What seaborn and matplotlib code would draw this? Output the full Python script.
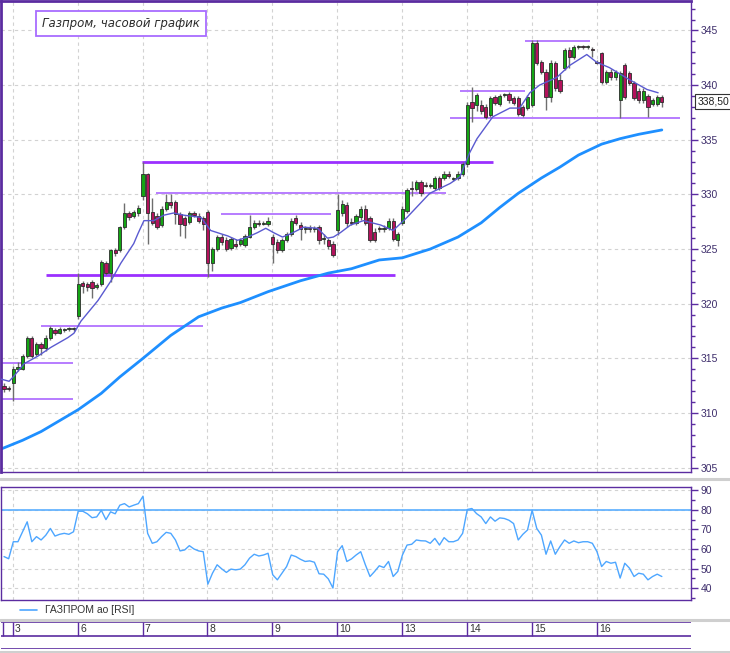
import numpy as np
import matplotlib
matplotlib.use('Agg')
import matplotlib.pyplot as plt
import matplotlib.transforms as mtransforms
from matplotlib.lines import Line2D
from matplotlib.ticker import MultipleLocator
import seaborn as sns

# ---------------- data ----------------
day_labels = ['3', '6', '7', '8', '9', '10', '13', '14', '15', '16']
day_sizes = [14, 14, 14, 14, 14, 14, 14, 14, 14, 15]
pre_count = 2   # two hourly candles of the previous session at the left edge

opens = [
    312.5, 312.3,
    312.7, 314.0, 314.0, 315.2, 316.9, 315.4, 316.3, 315.9, 316.9, 317.6, 317.3, 317.6, 317.7, 317.7,
    318.9, 321.9, 321.8, 322.0, 321.5, 321.8, 323.7, 322.8, 324.9, 324.9, 327.0, 328.3, 328.0, 328.3,
    329.9, 331.9, 328.4, 328.0, 327.2, 328.7, 329.3, 329.3, 328.2, 327.8, 327.5, 328.3, 328.0, 327.8,
    328.4, 323.7, 325.0, 326.1, 325.8, 325.1, 325.5, 325.5, 325.4, 326.1, 327.0, 327.4, 327.3, 327.3,
    326.1, 325.6, 324.9, 325.8, 326.4, 327.8, 327.2, 326.8, 326.9, 326.8, 327.0, 325.9, 325.8, 325.5,
    326.7, 328.3, 329.0, 327.5, 327.4, 327.9, 328.7, 327.8, 326.6, 326.9, 326.8, 326.9, 327.6, 325.8,
    327.4, 328.5, 330.6, 330.5, 331.1, 330.9, 330.8, 330.6, 331.5, 331.5, 331.9, 331.4, 331.5, 331.9,
    332.8, 338.5, 338.2, 338.2, 338.0, 337.3, 338.9, 338.3, 339.1, 339.2, 338.8, 338.8, 338.0, 337.9,
    338.2, 343.9, 342.1, 341.2, 338.9, 342.0, 340.5, 341.6, 343.2, 342.6, 343.5, 343.6, 343.5, 343.3,
    342.1, 342.9, 340.3, 341.2, 340.7, 338.6, 341.8, 341.1, 340.2, 339.5, 338.6, 339.0, 338.3, 338.3, 338.9,
]
highs = [
    312.7, 312.5,
    314.3, 314.7, 315.4, 317.0, 317.0, 316.5, 316.5, 317.1, 318.0, 317.8, 317.9, 317.8, 317.9, 317.9,
    322.8, 322.1, 322.0, 322.2, 321.9, 324.0, 323.9, 325.0, 325.1, 327.1, 329.2, 328.5, 328.6, 329.0,
    333.0, 332.0, 329.7, 328.3, 328.9, 330.0, 330.0, 329.5, 328.4, 328.0, 328.5, 328.5, 328.3, 328.0,
    328.6, 325.2, 326.3, 326.4, 326.1, 326.1, 325.9, 326.0, 326.4, 328.1, 327.7, 327.7, 327.6, 327.9,
    326.4, 325.9, 326.0, 326.6, 327.8, 328.1, 327.5, 327.1, 327.2, 327.1, 327.2, 326.4, 326.0, 325.7,
    330.0, 329.5, 329.3, 327.8, 328.2, 328.9, 329.0, 328.0, 326.9, 327.1, 327.2, 327.8, 327.8, 326.6,
    328.9, 330.6, 331.2, 331.3, 331.3, 331.1, 331.0, 331.7, 331.7, 332.1, 332.1, 331.6, 332.1, 333.0,
    338.5, 339.8, 339.3, 338.6, 338.3, 339.0, 339.1, 339.2, 339.3, 339.4, 339.0, 339.0, 338.2, 339.1,
    344.1, 344.1, 342.3, 341.5, 342.3, 342.2, 341.0, 343.4, 343.5, 343.7, 343.7, 343.7, 343.7, 343.5,
    342.3, 343.0, 341.4, 341.5, 341.4, 341.3, 342.0, 341.3, 340.4, 339.7, 339.7, 339.2, 338.8, 339.1, 339.1,
]
lows = [
    311.9, 312.0,
    311.1, 313.8, 313.9, 315.0, 315.0, 315.2, 315.3, 315.7, 316.7, 317.1, 317.2, 317.4, 317.5, 317.5,
    318.6, 321.0, 321.2, 320.5, 321.3, 321.6, 322.6, 322.0, 324.4, 324.7, 326.8, 327.7, 327.8, 328.0,
    329.5, 325.5, 327.2, 326.8, 327.0, 328.5, 328.8, 327.3, 326.2, 326.0, 327.3, 327.9, 327.4, 326.7,
    322.4, 323.0, 324.8, 325.4, 324.8, 324.9, 325.1, 325.3, 325.2, 326.0, 326.8, 327.1, 327.2, 327.1,
    323.7, 324.6, 324.7, 325.6, 326.2, 327.2, 325.8, 326.5, 326.6, 326.6, 325.5, 325.5, 325.0, 324.3,
    326.3, 328.0, 327.0, 327.2, 327.2, 327.7, 327.2, 325.6, 325.6, 326.6, 326.6, 326.7, 325.7, 325.3,
    327.2, 328.3, 329.9, 330.3, 329.9, 330.7, 330.6, 330.4, 330.4, 331.3, 331.5, 331.2, 331.3, 331.7,
    332.5, 336.6, 337.6, 337.4, 336.9, 337.1, 338.2, 338.1, 338.9, 338.4, 338.2, 337.2, 337.1, 337.7,
    338.0, 341.8, 341.0, 337.7, 338.5, 339.5, 339.3, 341.4, 341.6, 342.4, 343.3, 343.3, 343.3, 342.6,
    341.9, 340.1, 340.1, 340.5, 340.5, 337.0, 338.7, 340.0, 338.6, 338.4, 338.4, 337.1, 338.1, 338.1, 338.0,
]
closes = [
    312.2, 312.2,
    314.0, 314.2, 315.2, 316.9, 315.2, 316.3, 315.9, 316.9, 317.8, 317.3, 317.7, 317.6, 317.7, 317.8,
    321.8, 321.6, 321.5, 321.4, 321.7, 323.8, 322.8, 324.9, 324.6, 327.0, 328.3, 327.9, 328.4, 328.8,
    331.9, 328.3, 327.4, 327.0, 328.7, 329.3, 329.0, 328.2, 327.3, 327.2, 328.3, 328.1, 327.6, 327.3,
    323.7, 325.0, 326.1, 325.6, 325.0, 325.9, 325.3, 325.8, 326.2, 327.0, 327.4, 327.3, 327.4, 327.6,
    325.5, 324.9, 325.8, 326.4, 327.6, 327.4, 326.8, 326.9, 326.8, 326.9, 325.8, 326.0, 325.3, 324.5,
    328.6, 329.1, 327.4, 327.4, 328.0, 328.7, 327.4, 325.8, 325.8, 326.8, 326.9, 327.6, 325.9, 326.4,
    328.7, 330.4, 330.5, 331.1, 330.1, 330.8, 330.9, 331.5, 330.6, 331.9, 331.7, 331.4, 331.9, 332.8,
    338.2, 337.9, 339.1, 337.6, 337.1, 338.8, 338.4, 339.0, 339.1, 338.6, 338.4, 337.4, 337.3, 338.9,
    343.9, 342.0, 341.2, 338.9, 342.0, 339.7, 339.5, 343.2, 342.6, 343.5, 343.6, 343.5, 343.6, 343.2,
    342.0, 340.3, 341.2, 340.7, 341.2, 341.1, 338.9, 340.2, 338.8, 338.6, 339.5, 338.0, 338.6, 338.9, 338.5,
]

rsi = [
    56.1, 55.0,
    63.7, 63.7, 68.8, 73.9, 63.7, 66.3, 64.6, 67.0, 70.5, 66.6, 67.5, 68.0, 67.5, 68.8,
    79.3, 79.3, 78.0, 76.0, 76.4, 79.8, 75.0, 79.0, 78.0, 82.4, 83.2, 81.5, 82.4, 83.2,
    87.0, 68.0, 62.9, 63.7, 66.3, 68.5, 68.0, 64.6, 59.0, 59.5, 61.7, 60.0, 59.0, 58.6,
    42.0, 47.6, 51.9, 49.8, 48.0, 49.7, 49.3, 49.7, 51.9, 55.3, 57.3, 56.4, 56.9, 57.8,
    46.8, 44.2, 47.6, 51.0, 56.9, 56.1, 54.7, 53.6, 53.9, 53.2, 47.3, 47.1, 44.7, 40.0,
    58.6, 61.7, 53.6, 54.9, 56.9, 58.6, 51.9, 45.9, 48.5, 51.4, 50.5, 53.6, 45.9, 48.5,
    56.9, 62.0, 62.4, 64.6, 64.2, 64.1, 62.9, 65.4, 62.0, 65.8, 63.7, 63.7, 64.6, 68.0,
    80.2, 80.7, 78.1, 76.4, 73.0, 76.4, 74.2, 75.9, 75.6, 74.7, 73.0, 64.6, 67.5, 69.7,
    79.8, 70.5, 67.1, 57.3, 64.1, 57.3, 61.2, 64.6, 62.9, 64.1, 63.2, 63.7, 63.7, 62.9,
    58.6, 51.0, 53.6, 52.7, 53.2, 45.1, 52.7, 50.2, 45.9, 47.6, 47.1, 44.2, 45.9, 47.1, 45.9,
]

# short moving average (thin line), read at candle positions
ma_fast_x = [-0.65, 1.1, 2.2, 4.3, 7.3, 10.1, 13.8, 15.1, 16.6, 20.3, 23.1, 25.2, 28.0, 28.9,
             30.2, 32.3, 34.5, 36.6, 38.8, 42.5, 44.6, 46.8, 48.3, 50.4, 52.6, 54.7, 56.5,
             58.2, 60.1, 61.9, 64.7, 67.7, 69.8, 71.1, 72.6, 74.8, 77.6, 81.3, 84.0, 87.0,
             91.9, 96.3, 98.4, 100.5, 102.1, 105.5, 109.2, 111.3, 113.5, 115.6, 119.3,
             122.1, 125.8, 127.9, 130.7, 135.0, 138.8, 141.2]
ma_fast = [313.1, 312.9, 313.4, 314.5, 315.2, 316.0, 316.9, 317.3, 318.4, 320.3, 322.1, 323.7,
           325.5, 326.4, 327.6, 327.6, 328.1, 328.3, 328.1, 327.9, 326.7, 326.4, 326.2, 325.8,
           326.1, 326.5, 326.9, 326.5, 326.1, 326.4, 327.0, 326.9, 326.0, 326.1, 326.5, 327.2,
           327.6, 327.2, 326.7, 327.9, 330.1, 331.0, 331.6, 333.8, 335.1, 337.1, 337.9, 337.9,
           339.3, 340.0, 340.7, 341.8, 342.8, 342.1, 341.6, 340.5, 339.6, 339.3]

# long moving average (thick line)
ma_slow_x = [-0.65, 4, 8, 12, 16, 21, 25, 30, 36, 42, 47, 51, 57, 64, 70, 75, 81, 86, 92,
             98, 103, 107, 111, 116, 120, 124, 129, 133, 137, 142]
ma_slow = [306.7, 307.5, 308.3, 309.3, 310.3, 311.8, 313.3, 315.0, 317.1, 318.8, 319.6, 320.1,
           321.1, 322.1, 322.8, 323.2, 324.0, 324.2, 325.0, 326.1, 327.4, 328.8, 330.1, 331.5,
           332.5, 333.6, 334.6, 335.1, 335.5, 335.9]

# hand-drawn support / resistance levels: price, first candle, last candle
level_price = [333.0, 322.6, 330.1, 328.2, 318.0, 314.6, 311.3, 339.45, 337.0, 344.0]
level_from = [29.7, 9.0, 32.8, 46.8, 8.0, -0.65, -0.65, 98.5, 96.3, 112.5]
level_to = [105.6, 84.5, 95.3, 70.5, 42.9, 14.9, 14.9, 112.5, 145.9, 126.5]
level_heavy = [True, True, False, False, False, False, False, False, False, False]

last_price = '338,50'
title = 'Газпром, часовой график'
rsi_name = 'ГАЗПРОМ ао [RSI]'

# ---------------- style ----------------
sns.set_style('white')
plt.rcParams['font.family'] = ['DejaVu Sans']

PURPLE = '#5b2ca0'
GRID = '#d2d2d2'
LABEL = '#3d2d6b'

o = np.array(opens); h = np.array(highs); l = np.array(lows); c = np.array(closes)
n = len(o)
x = np.arange(n)
starts = pre_count + np.concatenate([[0], np.cumsum(day_sizes)[:-1]])
bounds = starts - 0.1
xlim = (-0.65, 148.3)

fig = plt.figure(figsize=(7.3, 6.53), dpi=100)
ax = fig.add_axes([0.0014, 0.2772, 0.9452, 0.7213])
ax_rsi = fig.add_axes([0.0014, 0.0812, 0.9452, 0.1730])
ax_d = fig.add_axes([0.0014, 0.0061, 0.9452, 0.0414])


def frame(a, lw_left=1.0, lw_top=1.0):
    for side, sp in a.spines.items():
        sp.set_color(PURPLE)
        sp.set_linewidth(1.0)
    a.spines['left'].set_linewidth(lw_left)
    a.spines['top'].set_linewidth(lw_top)


# ---------------- price panel ----------------
for b in bounds:
    ax.axvline(b, color=GRID, lw=0.8, ls=(0, (3, 3)), zorder=0)
for yv in range(305, 346, 5):
    ax.axhline(yv, color=GRID, lw=0.8, ls=(0, (3, 3)), zorder=0)

for p, a0, a1, heavy in zip(level_price, level_from, level_to, level_heavy):
    ax.hlines(p, a0, a1, color='#9b30ff' if heavy else '#b77cff',
              lw=2.0 if heavy else 1.4, zorder=1)

sns.lineplot(x=ma_slow_x, y=ma_slow, ax=ax, color='#1e8fff', lw=2.0, zorder=2)

ax.vlines(x, l, h, color='#6e6e6e', lw=1.0, zorder=3)
up = c >= o
bot = np.minimum(o, c)
hgt = np.maximum(np.abs(c - o), 0.08)
ax.bar(x[up], hgt[up], bottom=bot[up], width=0.7, color='#14a514',
       edgecolor='#2b2b2b', lw=0.6, zorder=4)
ax.bar(x[~up], hgt[~up], bottom=bot[~up], width=0.7, color='#b3125c',
       edgecolor='#2b2b2b', lw=0.6, zorder=4)

sns.lineplot(x=ma_fast_x, y=ma_fast, ax=ax, color='#5a5ad0', lw=1.0, zorder=5)

ax.set_xlim(*xlim)
ax.set_ylim(304.6, 347.7)
ax.set_xticks([])
ax.yaxis.tick_right()
ax.set_yticks(range(305, 346, 5))
ax.yaxis.set_minor_locator(MultipleLocator(1))
ax.tick_params(axis='y', which='major', length=5, width=1, color=PURPLE,
               labelsize=7.5, labelcolor=LABEL, pad=2)
ax.tick_params(axis='y', which='minor', length=3, width=1, color=PURPLE)
for t in ax.get_yticklabels():
    t.set_family('Liberation Sans')
ax.set_xlabel(''); ax.set_ylabel('')
frame(ax, lw_left=2.0, lw_top=2.0)

trans = mtransforms.blended_transform_factory(ax.transAxes, ax.transData)
ax.text(1.009, 338.5, last_price, transform=trans, ha='left', va='center',
        fontsize=7.5, family='Liberation Sans', color='#222222',
        bbox=dict(boxstyle='square,pad=0.2', fc='white', ec='#333333', lw=0.8))

ax.text(0.174, 0.952, title, transform=ax.transAxes, ha='center', va='center',
        fontsize=8.5, style='italic', color='#2b2b2b',
        bbox=dict(boxstyle='square,pad=0.5', fc='white', ec='#a86cff', lw=1.3))

# ---------------- RSI panel ----------------
for b in bounds:
    ax_rsi.axvline(b, color=GRID, lw=0.8, ls=(0, (3, 3)), zorder=0)
for yv in range(40, 91, 10):
    ax_rsi.axhline(yv, color=GRID, lw=0.8, ls=(0, (3, 3)), zorder=0)
ax_rsi.axhline(80, color='#5aaeff', lw=1.2, zorder=1)
sns.lineplot(x=x, y=rsi, ax=ax_rsi, color='#4da6ff', lw=1.0, zorder=2)
ax_rsi.set_xlim(*xlim)
ax_rsi.set_ylim(33.9, 91.7)
ax_rsi.set_xticks([])
ax_rsi.yaxis.tick_right()
ax_rsi.set_yticks(range(40, 91, 10))
ax_rsi.yaxis.set_minor_locator(MultipleLocator(5))
ax_rsi.tick_params(axis='y', which='major', length=5, width=1, color=PURPLE,
                   labelsize=7.5, labelcolor=LABEL, pad=2)
ax_rsi.tick_params(axis='y', which='minor', length=3, width=1, color=PURPLE)
for t in ax_rsi.get_yticklabels():
    t.set_family('Liberation Sans')
ax_rsi.set_xlabel(''); ax_rsi.set_ylabel('')
frame(ax_rsi)

# ---------------- date strip ----------------
ax_d.set_xlim(*xlim)
ax_d.set_ylim(0, 1)
ax_d.axis('off')
ax_d.axhline(1.0, color=PURPLE, lw=1.2)
ax_d.axhline(0.48, color=PURPLE, lw=1.2)
ax_d.axhline(0.0, color=PURPLE, lw=1.2)
ax_d.vlines(np.concatenate([[-0.3], bounds]), 0.48, 1.0, color=PURPLE, lw=1.0)
for b, lab in zip(bounds, day_labels):
    ax_d.text(b + 0.5, 0.73, lab, ha='left', va='center', fontsize=7.5,
              family='Liberation Sans', color='#333333')

# ---------------- legend and separators ----------------
fig.add_artist(Line2D([0.0274, 0.0507], [0.0658, 0.0658], color='#4da6ff', lw=1.2))
fig.text(0.0616, 0.0658, rsi_name, ha='left', va='center', fontsize=7.5,
         family='Liberation Sans', color='#333333')
for yy in [0.2665, 0.0505, 0.0020]:
    fig.add_artist(Line2D([0, 1], [yy, yy], color='#cfcfcf', lw=2.2))

fig.savefig('out.png', dpi=100, facecolor='white')
